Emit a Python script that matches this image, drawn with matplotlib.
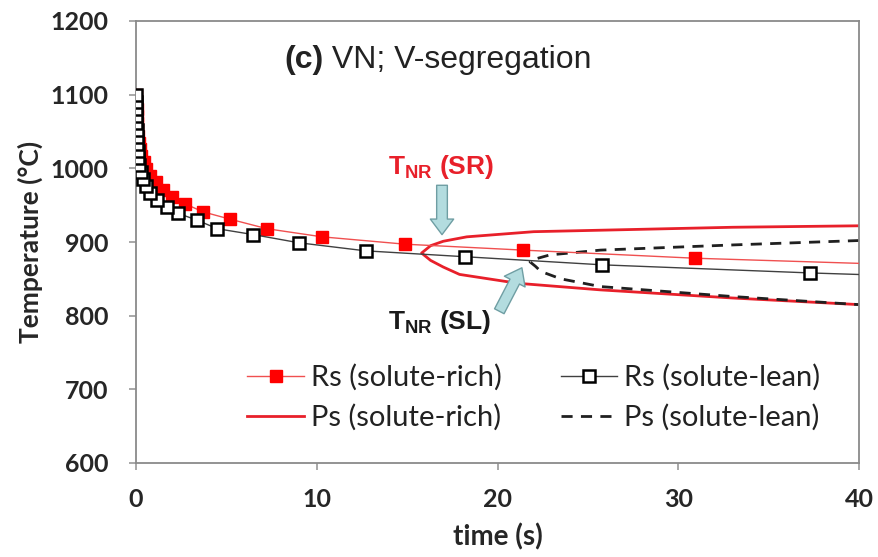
import matplotlib

matplotlib.use("Agg")
import matplotlib.pyplot as plt

# Rs: recrystallisation start, solute-lean band (open squares)
lean_t = [52.7, 37.3, 25.8, 18.2, 12.7, 9.0, 6.5, 4.5, 3.35, 2.3, 1.7, 1.15, 0.8,
          0.55, 0.38, 0.27, 0.19, 0.13, 0.095, 0.07, 0.05, 0.035, 0.025, 0.018,
          0.012, 0.008, 0.005]
lean_T = [846, 858, 869, 880, 888, 899, 910, 918, 930, 939, 948, 957, 966,
          976, 985, 995, 1005, 1014, 1024, 1033, 1043, 1052, 1062, 1071,
          1081, 1090, 1100]

# Rs: solute-rich band (filled red squares)
rich_t = [43.9, 30.9, 21.4, 14.9, 10.3, 7.25, 5.2, 3.7, 2.7, 2.0, 1.5, 1.1, 0.8,
          0.58, 0.42, 0.3, 0.22, 0.16, 0.11, 0.08, 0.055, 0.04, 0.028, 0.02, 0.014]
rich_T = [868, 878, 889, 897, 907, 918, 931, 941, 952, 961, 971, 981, 990,
          999, 1008, 1017, 1026, 1035, 1044, 1053, 1062, 1071, 1080, 1090, 1100]

# Ps: precipitation start C-curves (upper branch, nose, lower branch)
ps_rich_t = [40, 33, 25.7, 22, 18.3, 17.0, 16.3, 15.8, 16.3, 17.0, 17.9, 21.1, 25.7, 33, 40]
ps_rich_T = [922, 920, 916, 914, 907, 901, 895, 885, 875, 866, 856, 844, 835, 824, 815]
ps_lean_t = [40, 33, 25.7, 22.9, 22.1, 21.8, 22.1, 22.4, 23.5, 25.7, 33, 40]
ps_lean_T = [902, 896, 889, 882.5, 877, 873, 867, 860, 850, 839.5, 826, 815]

# T_NR markers: label position, arrow tail -> tip
sr_label = (16.9, 1002)
sr_arrow = ((16.93, 977), (16.93, 910))
sl_label = (16.8, 792)
sl_arrow = ((20.1, 806), (21.35, 865))

RED = "#ff0000"
CALIBRI_LIKE = "Lato"
ARIAL_LIKE = "Liberation Sans"

plt.rcParams["mathtext.fontset"] = "custom"
plt.rcParams["mathtext.rm"] = ARIAL_LIKE
plt.rcParams["mathtext.bf"] = ARIAL_LIKE + ":bold"

fig = plt.figure(figsize=(8.79, 5.57), dpi=100)
ax = fig.add_axes([136 / 879, 1 - 463 / 557, 723 / 879, 442 / 557])

ax.plot(rich_t, rich_T, "-", color="#f05050", lw=1.0, marker="s", ms=9,
        mfc=RED, mec=RED, zorder=3, label="Rs (solute-rich)")
ax.plot(ps_rich_t, ps_rich_T, "-", color="#e8202a", lw=2.0, zorder=2,
        label="Ps (solute-rich)")
ax.plot(lean_t, lean_T, "-", color="#404040", lw=1.0, marker="s", ms=9,
        mfc="white", mec="black", mew=1.8, zorder=4, label="Rs (solute-lean)")
ax.plot(ps_lean_t, ps_lean_T, "--", color="#202020", lw=2.0, dashes=(4, 3),
        zorder=2, label="Ps (solute-lean)")

ax.set_xlim(0, 40)
ax.set_ylim(600, 1200)
ax.set_xticks(range(0, 41, 10))
ax.set_yticks(range(600, 1201, 100))
for s in ax.spines.values():
    s.set_color("#8a8a8a")
    s.set_linewidth(1.3)
ax.tick_params(direction="out", length=5, width=1.2, color="#9a9a9a",
               labelcolor="#262626")
ax.tick_params(axis="y", pad=15)
ax.tick_params(axis="x", pad=13)
for lab in ax.get_xticklabels() + ax.get_yticklabels():
    lab.set_fontfamily(CALIBRI_LIKE)
    lab.set_fontweight("bold")
    lab.set_fontsize(18)

ax.set_xlabel("time (s)", family=CALIBRI_LIKE, weight="bold", fontsize=20,
              color="#262626", labelpad=9)
ax.set_ylabel("Temperature (°C)", family=CALIBRI_LIKE, weight="bold", fontsize=19,
              color="#262626", labelpad=5)

# panel title: bold tag then plain text
tag = ax.text(0.205, 0.894, "(c)", transform=ax.transAxes, family=ARIAL_LIKE,
              weight="bold", fontsize=23, color="#222222", va="baseline")
ax.annotate(" VN; V-segregation", xy=(1, 0), xycoords=tag, va="bottom",
            family=ARIAL_LIKE, fontsize=23, color="#222222")

ax.text(*sr_label, r"$\mathbf{T_{NR}}$ (SR)", family=ARIAL_LIKE, weight="bold",
        fontsize=19, color="#e8202a", ha="center", va="center")
ax.text(*sl_label, r"$\mathbf{T_{NR}}$ (SL)", family=ARIAL_LIKE, weight="bold",
        fontsize=19, color="#1a1a1a", ha="center", va="center")

arrow_style = "simple,head_width=1.2,head_length=0.8,tail_width=0.55"
for tail, tip in (sr_arrow, sl_arrow):
    ax.annotate("", xy=tip, xytext=tail,
                arrowprops=dict(arrowstyle=arrow_style, mutation_scale=14,
                                fc="#b3dcdf", ec="#6f9ea3", lw=1.0,
                                shrinkA=0, shrinkB=0),
                zorder=6)

handles, labels = ax.get_legend_handles_labels()
ax.legend(handles, labels, ncol=2, loc="lower left",
          bbox_to_anchor=(0.134, 0.04), frameon=False,
          prop={"family": CALIBRI_LIKE, "size": 21}, handlelength=1.95,
          handletextpad=0.24, columnspacing=2.0, labelspacing=0.45,
          borderpad=0, labelcolor="#222222")

fig.savefig("out.png", dpi=100)
